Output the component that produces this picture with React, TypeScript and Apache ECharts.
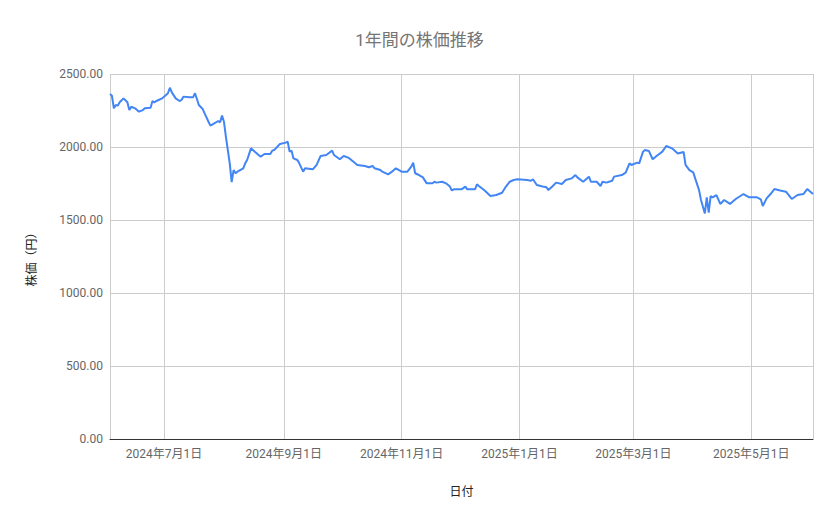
import React, { useEffect, useRef } from 'react'
import * as echarts from 'echarts'

// 日付と終値（チャートから読み取った値）
const dates = [
  '2024-06-03', '2024-06-04', '2024-06-05', '2024-06-06', '2024-06-07', '2024-06-08', '2024-06-10', '2024-06-12',
  '2024-06-13', '2024-06-14', '2024-06-16', '2024-06-18', '2024-06-20', '2024-06-21', '2024-06-24', '2024-06-25',
  '2024-06-26', '2024-06-27', '2024-06-30', '2024-07-01', '2024-07-03', '2024-07-04', '2024-07-05', '2024-07-07',
  '2024-07-09', '2024-07-10', '2024-07-11', '2024-07-14', '2024-07-16', '2024-07-17', '2024-07-18', '2024-07-19',
  '2024-07-21', '2024-07-22', '2024-07-24', '2024-07-25', '2024-07-27', '2024-07-29', '2024-07-30', '2024-07-31',
  '2024-08-01', '2024-08-02', '2024-08-04', '2024-08-05', '2024-08-06', '2024-08-07', '2024-08-08', '2024-08-11',
  '2024-08-12', '2024-08-13', '2024-08-15', '2024-08-17', '2024-08-20', '2024-08-22', '2024-08-25', '2024-08-26',
  '2024-08-27', '2024-08-29', '2024-08-30', '2024-09-02', '2024-09-03', '2024-09-04', '2024-09-05', '2024-09-06',
  '2024-09-08', '2024-09-09', '2024-09-11', '2024-09-12', '2024-09-16', '2024-09-18', '2024-09-20', '2024-09-23',
  '2024-09-26', '2024-09-27', '2024-09-30', '2024-10-02', '2024-10-04', '2024-10-05', '2024-10-08', '2024-10-09',
  '2024-10-13', '2024-10-15', '2024-10-17', '2024-10-18', '2024-10-21', '2024-10-22', '2024-10-25', '2024-10-27',
  '2024-10-29', '2024-10-30', '2024-11-01', '2024-11-04', '2024-11-06', '2024-11-07', '2024-11-08', '2024-11-10',
  '2024-11-12', '2024-11-14', '2024-11-17', '2024-11-18', '2024-11-19', '2024-11-22', '2024-11-24', '2024-11-26',
  '2024-11-27', '2024-11-28', '2024-12-02', '2024-12-04', '2024-12-05', '2024-12-09', '2024-12-10', '2024-12-11',
  '2024-12-14', '2024-12-17', '2024-12-20', '2024-12-23', '2024-12-25', '2024-12-27', '2024-12-29', '2024-12-31',
  '2025-01-05', '2025-01-07', '2025-01-08', '2025-01-10', '2025-01-13', '2025-01-15', '2025-01-16', '2025-01-18',
  '2025-01-20', '2025-01-23', '2025-01-25', '2025-01-28', '2025-01-30', '2025-01-31', '2025-02-03', '2025-02-06',
  '2025-02-07', '2025-02-10', '2025-02-12', '2025-02-13', '2025-02-15', '2025-02-18', '2025-02-19', '2025-02-23',
  '2025-02-25', '2025-02-27', '2025-02-28', '2025-03-03', '2025-03-04', '2025-03-06', '2025-03-07', '2025-03-09',
  '2025-03-11', '2025-03-13', '2025-03-16', '2025-03-18', '2025-03-21', '2025-03-24', '2025-03-27', '2025-03-28',
  '2025-03-30', '2025-04-01', '2025-04-02', '2025-04-04', '2025-04-05', '2025-04-07', '2025-04-08', '2025-04-09',
  '2025-04-10', '2025-04-11', '2025-04-13', '2025-04-15', '2025-04-17', '2025-04-20', '2025-04-23', '2025-04-27',
  '2025-04-30', '2025-05-04', '2025-05-06', '2025-05-07', '2025-05-09', '2025-05-11', '2025-05-13', '2025-05-16',
  '2025-05-19', '2025-05-22', '2025-05-25', '2025-05-28', '2025-05-30', '2025-06-02'
]

const prices = [
  2363, 2351, 2265, 2288, 2283, 2306, 2333, 2306,
  2253, 2276, 2265, 2242, 2253, 2265, 2269, 2315,
  2306, 2315, 2333, 2345, 2368, 2406, 2374, 2333,
  2315, 2322, 2345, 2340, 2340, 2368, 2329, 2288,
  2260, 2230, 2173, 2146, 2162, 2178, 2169, 2215,
  2173, 2071, 1888, 1760, 1842, 1820, 1831, 1854,
  1888, 1911, 1991, 1968, 1934, 1952, 1952, 1975,
  1979, 2007, 2021, 2030, 2036, 1968, 1975, 1922,
  1911, 1888, 1831, 1854, 1847, 1877, 1938, 1945,
  1975, 1945, 1916, 1938, 1929, 1922, 1888, 1877,
  1870, 1861, 1870, 1854, 1842, 1831, 1813, 1831,
  1854, 1847, 1831, 1831, 1865, 1893, 1820, 1808,
  1792, 1751, 1751, 1762, 1756, 1762, 1751, 1729,
  1702, 1710, 1710, 1729, 1710, 1710, 1745, 1733,
  1702, 1664, 1671, 1687, 1729, 1762, 1774, 1779,
  1774, 1769, 1779, 1740, 1729, 1724, 1705, 1729,
  1756, 1747, 1774, 1785, 1808, 1792, 1762, 1797,
  1762, 1762, 1733, 1762, 1756, 1769, 1797, 1808,
  1824, 1888, 1877, 1893, 1888, 1968, 1979, 1973,
  1916, 1938, 1968, 2007, 1991, 1956, 1966, 1877,
  1842, 1826, 1785, 1705, 1637, 1545, 1655, 1550,
  1664, 1655, 1671, 1610, 1637, 1610, 1644, 1678,
  1655, 1655, 1641, 1596, 1648, 1678, 1712, 1702,
  1694, 1644, 1671, 1678, 1712, 1678
]

const FONT = "Roboto, 'Noto Sans CJK JP', sans-serif"

const App = () => {
  const chartRef = useRef<HTMLDivElement>(null)

  useEffect(() => {
    if (!chartRef.current) {
      return
    }
    const chart = echarts.init(chartRef.current, undefined, { renderer: 'svg' })

    chart.setOption({
      animation: false,
      textStyle: { fontFamily: FONT },
      title: {
        text: '1年間の株価推移',
        left: 'center',
        top: 26,
        textStyle: { fontFamily: FONT, fontSize: 17, fontWeight: 'normal', color: '#757575' }
      },
      grid: { left: 110, right: 26, top: 74, bottom: 80 },
      xAxis: {
        type: 'time',
        min: dates[0],
        max: dates[dates.length - 1],
        name: '日付',
        nameLocation: 'middle',
        nameGap: 47,
        nameTextStyle: { fontFamily: FONT, fontSize: 12, color: '#222' },
        axisLine: { show: true, lineStyle: { color: '#333', width: 1 } },
        axisTick: { show: false },
        minorTick: { show: false },
        splitLine: { show: true, lineStyle: { color: '#ccc', width: 1 } },
        axisLabel: {
          fontFamily: FONT,
          fontSize: 12,
          color: '#666',
          margin: 9,
          hideOverlap: false,
          formatter: (value: number) => {
            const d = new Date(value)
            return `${d.getFullYear()}年${d.getMonth() + 1}月${d.getDate()}日`
          }
        }
      },
      yAxis: {
        type: 'value',
        min: 0,
        max: 2500,
        interval: 500,
        name: '株価（円）',
        nameLocation: 'middle',
        nameGap: 72,
        nameTextStyle: { fontFamily: FONT, fontSize: 12, color: '#222' },
        axisLine: { show: false },
        axisTick: { show: false },
        splitLine: { show: true, lineStyle: { color: '#ccc', width: 1 } },
        axisLabel: {
          fontFamily: FONT,
          fontSize: 12,
          color: '#666',
          margin: 7,
          formatter: (v: number) => v.toFixed(2)
        }
      },
      series: [
        {
          type: 'line',
          name: '株価',
          data: dates.map((d, i) => [d, prices[i]]),
          showSymbol: false,
          symbol: 'none',
          lineStyle: { color: '#4285f4', width: 2 },
          itemStyle: { color: '#4285f4' }
        }
      ]
    })

    return () => {
      chart.dispose()
    }
  }, [])

  return (
    <div style={{ position: 'fixed', left: 0, top: 0, width: 839, height: 519, background: '#fff' }}>
      <div ref={chartRef} style={{ width: 839, height: 519 }} />
    </div>
  )
}

export default App
